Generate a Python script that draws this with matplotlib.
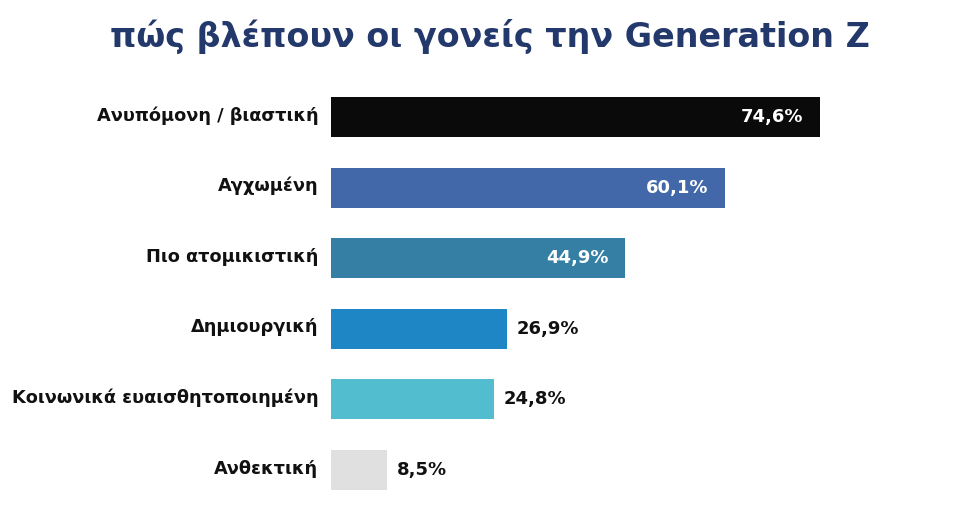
import matplotlib
matplotlib.use("Agg")
import matplotlib.pyplot as plt

categories = ["Ανυπόμονη / βιαστική", "Αγχωμένη", "Πιο ατομικιστική",
              "Δημιουργική", "Κοινωνικά ευαισθητοποιημένη", "Ανθεκτική"]
values = [74.6, 60.1, 44.9, 26.9, 24.8, 8.5]
value_labels = ["74,6%", "60,1%", "44,9%", "26,9%", "24,8%", "8,5%"]
colors = ["#0a0a0a", "#4268a9", "#347fa3", "#1f86c6", "#53bdd0", "#e0e0e0"]
inside = [True, True, True, False, False, False]
title = "πώς βλέπουν οι γονείς την Generation Z"

fig = plt.figure(figsize=(9.6, 5.2), dpi=100)
ax = fig.add_axes([331/960, 0.0, (940-331)/960, 1.0])
ypos = list(range(len(values)))
ax.barh(ypos, values, height=0.567, color=colors, edgecolor="none")
top = -117/70.6
ax.set_ylim(top + 520/70.6, top)
ax.set_xlim(0, 74.6 * 609 / 489)
ax.axis("off")

for y, v, lab, ins, cat in zip(ypos, values, value_labels, inside, categories):
    if ins:
        ax.annotate(lab, (v, y), xytext=(-12, 0), textcoords="offset points",
                    ha="right", va="center", color="white", fontsize=13,
                    fontweight="bold", family="DejaVu Sans")
    else:
        ax.annotate(lab, (v, y), xytext=(7, 0), textcoords="offset points",
                    ha="left", va="center", color="#111111", fontsize=13,
                    fontweight="bold", family="DejaVu Sans")
    ax.annotate(cat, (0, y), xytext=(-9, 1), textcoords="offset points",
                ha="right", va="center", color="#111111", fontsize=12.8,
                fontweight="bold", family="DejaVu Sans")

fig.text(490/960, 1 - 37/520, title, ha="center", va="center",
         color="#23386b", fontsize=24, fontweight="bold", family="DejaVu Sans")

fig.savefig("out.png", dpi=100)
